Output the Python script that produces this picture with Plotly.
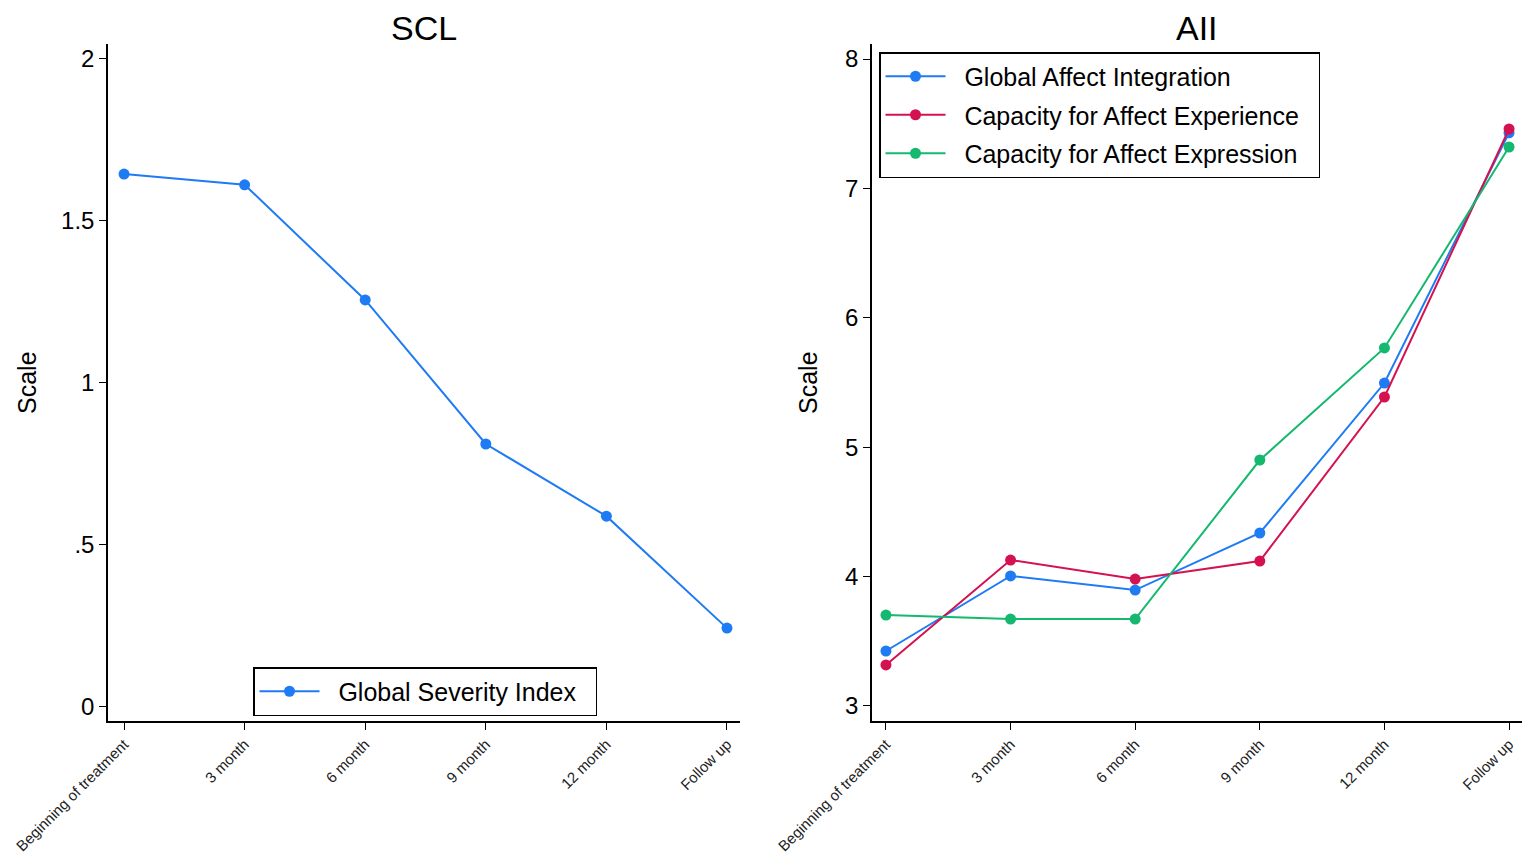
import plotly.graph_objects as go

categories = ["Beginning of treatment", "3 month", "6 month", "9 month", "12 month", "Follow up"]
gsi = [1.644, 1.611, 1.255, 0.810, 0.587, 0.241]
global_affect = [3.425, 4.005, 3.896, 4.337, 5.496, 7.43]
cap_experience = [3.317, 4.128, 3.981, 4.120, 5.388, 7.459]
cap_expression = [3.703, 3.672, 3.672, 4.901, 5.767, 7.32]
scl_ticks = [0, 0.5, 1, 1.5, 2]
scl_ticktext = ["0", ".5", "1", "1.5", "2"]
aii_ticks = [3, 4, 5, 6, 7, 8]

BLUE = "#1f7bf4"
RED = "#d4124f"
GREEN = "#14b86e"
FONT = "Arial, Liberation Sans, sans-serif"

# page has an 8px body margin; figure is sized to fit the 1535x860 window
W, H, OFF = 1527, 852, 8


def px(x):
    return (x - OFF) / W


def py(y):
    return 1 - (y - OFF) / H


NB = "\u00a0\u00a0"
xs = list(range(len(categories)))

fig = go.Figure()
fig.add_trace(go.Scatter(x=xs, y=gsi, mode="lines+markers", name=NB + "Global Severity Index" + NB,
                         line=dict(color=BLUE, width=2), marker=dict(size=11, color=BLUE),
                         xaxis="x", yaxis="y", legend="legend", showlegend=True))
for i, (name, vals, col) in enumerate([("Global Affect Integration", global_affect, BLUE),
                                       ("Capacity for Affect Experience", cap_experience, RED),
                                       ("Capacity for Affect Expression", cap_expression, GREEN)]):
    fig.add_trace(go.Scatter(x=xs, y=vals, mode="lines+markers", name=NB + name + NB,
                             line=dict(color=col, width=2), marker=dict(size=11, color=col),
                             xaxis="x2", yaxis="y2", legend="legend2", showlegend=True,
                             legendgroup=f"g{i}"))

axis_common = dict(showline=True, linecolor="black", linewidth=1.5, ticks="outside",
                   ticklen=7, tickcolor="black", showgrid=False, zeroline=False,
                   automargin=False)

fig.update_layout(
    width=W, height=H,
    margin=dict(l=0, r=0, t=0, b=0, autoexpand=False),
    showlegend=True,
    paper_bgcolor="white", plot_bgcolor="white",
    font=dict(family=FONT, color="black"),
    xaxis=dict(domain=[px(108), px(740)], range=[-0.133, 5.108], anchor="y",
               tickvals=xs, ticktext=categories, tickangle=-45,
               tickfont=dict(size=15, color="#222"), **axis_common),
    yaxis=dict(domain=[py(721), py(44)], range=[-0.046, 2.046], anchor="x",
               tickvals=scl_ticks, ticktext=scl_ticktext, tickfont=dict(size=24),
               **axis_common),
    xaxis2=dict(domain=[px(872), px(1522)], range=[-0.112, 5.104], anchor="y2",
                tickvals=xs, ticktext=categories, tickangle=-45,
                tickfont=dict(size=15, color="#222"), **axis_common),
    yaxis2=dict(domain=[py(721), py(44)], range=[2.884, 8.116], anchor="x2",
                tickvals=aii_ticks, tickfont=dict(size=24), **axis_common),
    legend=dict(x=px(253), y=py(667), xanchor="left", yanchor="top",
                bordercolor="black", borderwidth=1.5, bgcolor="white",
                font=dict(size=25, family=FONT), itemwidth=60),
    legend2=dict(x=px(879), y=py(52), xanchor="left", yanchor="top",
                 bordercolor="black", borderwidth=1.5, bgcolor="white",
                 font=dict(size=25, family=FONT), itemwidth=60, tracegroupgap=3),
    annotations=[
        dict(text="SCL", x=px(424), y=1, xref="paper", yref="paper",
             showarrow=False, font=dict(size=34), xanchor="center", yanchor="top",
             borderpad=0),
        dict(text="AII", x=px(1197), y=1, xref="paper", yref="paper",
             showarrow=False, font=dict(size=34), xanchor="center", yanchor="top",
             borderpad=0),
        dict(text="Scale", x=px(27), y=py(383), xref="paper", yref="paper",
             showarrow=False, font=dict(size=25), textangle=-90, xanchor="center", yanchor="middle"),
        dict(text="Scale", x=px(808), y=py(383), xref="paper", yref="paper",
             showarrow=False, font=dict(size=25), textangle=-90, xanchor="center", yanchor="middle"),
    ],
)

fig.write_html("out.html")
